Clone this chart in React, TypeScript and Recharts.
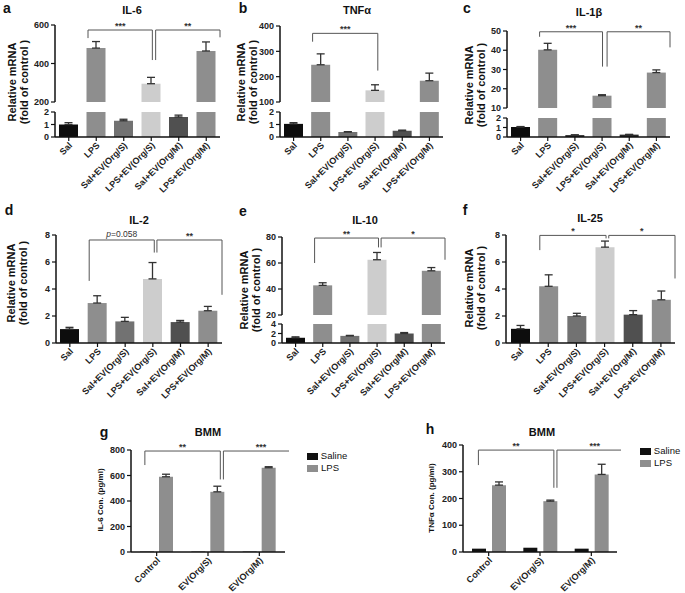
import React from 'react';
import { BarChart, Bar, XAxis, YAxis, Cell, ErrorBar, ReferenceLine } from 'recharts';

const FONT = '"Liberation Sans", Arial, Helvetica, sans-serif';

// ---------------- data ----------------
const groups = ['Sal', 'LPS', 'Sal+EV(Org/S)', 'LPS+EV(Org/S)', 'Sal+EV(Org/M)', 'LPS+EV(Org/M)'];

const il6Mean = [1.0, 480, 1.3, 295, 1.6, 465];
const il6Sem = [0.15, 34, 0.12, 33, 0.15, 47];
const tnfMean = [1.05, 247, 0.4, 146, 0.5, 184];
const tnfSem = [0.1, 43, 0.03, 22, 0.05, 30];
const il1bMean = [1.05, 40.2, 0.2, 16.4, 0.25, 28.4];
const il1bSem = [0.05, 3.4, 0.03, 0.5, 0.03, 1.4];
const il2Mean = [1.03, 2.96, 1.6, 4.75, 1.55, 2.39];
const il2Sem = [0.13, 0.54, 0.3, 1.21, 0.12, 0.32];
const il10Mean = [1.1, 42.8, 1.5, 62.5, 2.0, 54];
const il10Sem = [0.2, 2.0, 0.1, 5.6, 0.2, 2.5];
const il25Mean = [1.05, 4.2, 2.0, 7.1, 2.1, 3.2];
const il25Sem = [0.25, 0.85, 0.2, 0.45, 0.3, 0.65];

const bmmGroups = ['Control', 'EV(Org/S)', 'EV(Org/M)'];
const bmmIl6Saline = [3, 3, 3];
const bmmIl6Lps = [590, 472, 661];
const bmmIl6LpsSem = [20, 44, 8];
const bmmTnfSaline = [12.5, 16, 12.5];
const bmmTnfLps = [250, 190, 290];
const bmmTnfLpsSem = [12, 4, 38];

// significance brackets (x in category index units, y in data units)
const il6Sig = [
  { from: 1, to: 2.95, y: 574, fromEnd: 532, toEnd: 418, text: '***' },
  { from: 3.05, to: 5, y: 574, fromEnd: 418, toEnd: 536, text: '**' },
];
const tnfSig = [{ from: 1, to: 3, y: 371, fromEnd: 338, toEnd: 224, text: '***' }];
const il1bSig = [
  { from: 1, to: 2.93, y: 49.6, fromEnd: 47, toEnd: 31.5, text: '***' },
  { from: 3.07, to: 5, y: 49.6, fromEnd: 31.5, toEnd: 41.5, text: '**' },
];
const il2Sig = [
  { from: 1, to: 2.96, y: 7.63, fromEnd: 4.6, toEnd: 6.7, text: 'p=0.058' },
  { from: 3.04, to: 5, y: 7.63, fromEnd: 6.7, toEnd: 3.57, text: '**' },
];
const il10Sig = [
  { from: 1, to: 2.96, y: 79.2, fromEnd: 60, toEnd: 72, text: '**' },
  { from: 3.04, to: 5, y: 79.2, fromEnd: 72, toEnd: 62.5, text: '*' },
];
const il25Sig = [
  { from: 1, to: 2.96, y: 7.97, fromEnd: 6.88, toEnd: 7.75, text: '*' },
  { from: 3.04, to: 5, y: 7.97, fromEnd: 7.75, toEnd: 4.78, text: '*' },
];
const bmmIl6Sig = [
  { from: 0.18, to: 1.16, y: 792, fromEnd: 682, toEnd: 569, text: '**' },
  { from: 1.2, to: 2.18, y: 792, fromEnd: 569, toEnd: 726, text: '***' },
];
const bmmTnfSig = [
  { from: 0.2, to: 1.18, y: 381, fromEnd: 325, toEnd: 240, text: '**' },
  { from: 1.22, to: 2.2, y: 381, fromEnd: 240, toEnd: 347, text: '***' },
];

// ---------------- styles ----------------
const COLORS_STD = ['#0d0d0d', '#8e8e8e', '#727272', '#cdcdcd', '#505050', '#8e8e8e'];
const COLORS_C = ['#0d0d0d', '#8e8e8e', '#2a2a2a', '#8e8e8e', '#2a2a2a', '#8e8e8e'];
const AXIS = '#111';

const buildRows = (mean: number[], sem: number[]) =>
  groups.map((name, i) => ({ name, mean: mean[i], err: [0, sem[i]] }));

const buildBmm = (sal: number[], lps: number[], lpsSem: number[]) =>
  bmmGroups.map((name, i) => ({ name, saline: sal[i], lps: lps[i], lpsErr: [0, lpsSem[i]] }));

const sigLabel = (text: string) => (props: any) => {
  const vb = props.viewBox || {};
  const cx = (vb.x || 0) + (vb.width || 0) / 2;
  const y = (vb.y || 0) - 3;
  if (text.startsWith('p=')) {
    return (
      <text x={cx} y={y} textAnchor="middle" fontSize={8.5} fill="#333333" fontFamily={FONT}>
        <tspan fontStyle="italic">p</tspan>
        {text.slice(1)}
      </text>
    );
  }
  return (
    <text x={cx} y={y + 2} textAnchor="middle" fontSize={9} fontWeight="bold" fill="#333333" fontFamily={FONT}>
      {text}
    </text>
  );
};

function renderBrackets(sig: any[], pre: string) {
  const out: any[] = [];
  sig.forEach((b, i) => {
    const common = { xAxisId: 'num', stroke: '#555', strokeWidth: 1, ifOverflow: 'visible' as const };
    out.push(
      <ReferenceLine key={`${pre}h${i}`} {...common}
        segment={[{ x: b.from, y: b.y }, { x: b.to, y: b.y }]} label={sigLabel(b.text)} />
    );
    out.push(
      <ReferenceLine key={`${pre}l${i}`} {...common}
        segment={[{ x: b.from, y: b.y }, { x: b.from, y: b.fromEnd }]} />
    );
    out.push(
      <ReferenceLine key={`${pre}r${i}`} {...common}
        segment={[{ x: b.to, y: b.y }, { x: b.to, y: b.toEnd }]} />
    );
  });
  return out;
}

const RotTick = (props: any) => {
  const { x, y, payload, fs } = props;
  return (
    <g transform={`translate(${x + 4},${y + 3})`}>
      <text x={0} y={0} textAnchor="end" transform="rotate(-45)" fontSize={fs} fontWeight="bold"
        fill="#222" fontFamily={FONT}>
        {payload.value}
      </text>
    </g>
  );
};

const yTickStyle = { fontSize: 9, fontWeight: 'bold', fill: '#222', fontFamily: FONT };

type Seg = { top: number; bottom: number; domain: [number, number]; ticks: number[] };

const YW = 34;
const XH = 72;

function SegChart(props: any) {
  const { axisX, endX, seg, first, last, data, n, sig, pre, grouped, colors, xFs, barSize, barGap } = props;
  const mt = first ? 18 : 6;
  const mb = last ? 0 : 6;
  const left = axisX - YW;
  const width = endX - left + 4;
  const height = seg.bottom - seg.top + mt + mb + (last ? XH : 0);
  return (
    <div style={{ position: 'absolute', left, top: seg.top - mt }}>
      <BarChart width={width} height={height} data={data}
        margin={{ top: mt, right: 4, bottom: mb, left: 0 }} barGap={barGap}>
        <XAxis dataKey="name" interval={0} hide={!last} height={XH} tickSize={4}
          axisLine={{ stroke: AXIS, strokeWidth: 1.5 }} tickLine={{ stroke: AXIS, strokeWidth: 1.2 }}
          tick={(p: any) => <RotTick {...p} fs={xFs} />} />
        <XAxis xAxisId="num" type="number" domain={[-0.5, n - 0.5]} allowDataOverflow hide />
        <YAxis type="number" domain={seg.domain} ticks={seg.ticks} allowDataOverflow interval={0}
          width={YW} tickSize={4} tickMargin={2}
          axisLine={{ stroke: AXIS, strokeWidth: 1.5 }} tickLine={{ stroke: AXIS, strokeWidth: 1.2 }}
          tick={yTickStyle} />
        {grouped ? (
          [
            <Bar key="s" dataKey="saline" fill="#111" barSize={barSize} isAnimationActive={false} />,
            <Bar key="l" dataKey="lps" fill="#8e8e8e" barSize={barSize} isAnimationActive={false}>
              <ErrorBar dataKey="lpsErr" width={4} stroke="#333" strokeWidth={1.3} direction="y" />
            </Bar>,
          ]
        ) : (
          <Bar dataKey="mean" barSize={barSize} isAnimationActive={false}>
            {data.map((_: any, i: number) => (
              <Cell key={i} fill={colors[i]} />
            ))}
            <ErrorBar dataKey="err" width={4} stroke="#333" strokeWidth={1.3} direction="y" />
          </Bar>
        )}
        {first && sig ? renderBrackets(sig, pre) : null}
      </BarChart>
    </div>
  );
}

const Txt = ({ x, y, size, bold = true, children, italic = false }: any) => (
  <div style={{
    position: 'absolute', left: x, top: y, transform: 'translate(-50%,-50%)', fontSize: size,
    fontWeight: bold ? 'bold' : 'normal', whiteSpace: 'nowrap', lineHeight: 1.1, color: '#111',
    fontStyle: italic ? 'italic' : 'normal',
  }}>{children}</div>
);

const YLabel = ({ x, y, size = 11, lines }: any) => (
  <div style={{
    position: 'absolute', left: x, top: y, transform: 'translate(-50%,-50%) rotate(-90deg)',
    fontSize: size, fontWeight: 'bold', whiteSpace: 'nowrap', lineHeight: `${size + 0.5}px`,
    textAlign: 'center', color: '#111',
  }}>
    {lines.map((l: string, i: number) => <div key={i}>{l}</div>)}
  </div>
);

function Panel(props: any) {
  const { letter, letterPos, title, titlePos, ylab, ylabPos, ylabSize, segs, axisX, endX, data, n, sig, pre,
    grouped, colors, xFs = 9, barSize = 19, barGap = 4 } = props;
  return (
    <>
      <Txt x={letterPos[0]} y={letterPos[1]} size={14}>{letter}</Txt>
      <Txt x={titlePos[0]} y={titlePos[1]} size={11}>{title}</Txt>
      <YLabel x={ylabPos[0]} y={ylabPos[1]} size={ylabSize} lines={ylab} />
      {segs.map((s: Seg, i: number) => (
        <SegChart key={i} axisX={axisX} endX={endX} seg={s} first={i === 0} last={i === segs.length - 1}
          data={data} n={n} sig={sig} pre={pre} grouped={grouped} colors={colors} xFs={xFs}
          barSize={barSize} barGap={barGap} />
      ))}
    </>
  );
}

const REL = ['Relative mRNA', '(fold of control )'];

const Legend = ({ x, y }: any) => (
  <>
    <div style={{ position: 'absolute', left: x, top: y - 3.5, width: 11, height: 7, background: '#111' }} />
    <Txt x={x + 27} y={y} size={9.5} bold={false}>Saline</Txt>
    <div style={{ position: 'absolute', left: x, top: y + 8.5, width: 11, height: 7, background: '#8e8e8e' }} />
    <Txt x={x + 23} y={y + 12} size={9.5} bold={false}>LPS</Txt>
  </>
);

export default function App() {
  return (
    <div style={{
      position: 'absolute', left: 0, top: 0, width: 685, height: 593, background: '#fff',
      fontFamily: FONT, overflow: 'hidden',
    }}>
      <Panel letter="a" letterPos={[7, 9]} title="IL-6" titlePos={[132, 10]} ylab={REL} ylabPos={[18, 82]}
        axisX={55} endX={220} n={6} data={buildRows(il6Mean, il6Sem)} colors={COLORS_STD} sig={il6Sig} pre="a"
        segs={[
          { top: 25, bottom: 102, domain: [200, 600], ticks: [200, 400, 600] },
          { top: 112, bottom: 137, domain: [0, 2], ticks: [0, 1, 2] },
        ]} />
      <Panel letter="b" letterPos={[243, 9]} title="TNFα" titlePos={[357, 10]} ylab={REL} ylabPos={[247, 82]}
        axisX={280} endX={443} n={6} data={buildRows(tnfMean, tnfSem)} colors={COLORS_STD} sig={tnfSig} pre="b"
        segs={[
          { top: 26, bottom: 102, domain: [100, 400], ticks: [100, 200, 300, 400] },
          { top: 112, bottom: 137, domain: [0, 2], ticks: [0, 1, 2] },
        ]} />
      <Panel letter="c" letterPos={[467, 9]} title="IL-1β" titlePos={[589, 12]} ylab={REL} ylabPos={[475, 85]}
        axisX={507} endX={670} n={6} data={buildRows(il1bMean, il1bSem)} colors={COLORS_C} sig={il1bSig} pre="c"
        segs={[
          { top: 31, bottom: 108, domain: [10, 50], ticks: [10, 20, 30, 40, 50] },
          { top: 118, bottom: 137, domain: [0, 2], ticks: [0, 1, 2] },
        ]} />
      <Panel letter="d" letterPos={[9, 211]} title="IL-2" titlePos={[139, 220]} ylab={REL} ylabPos={[17, 283]}
        axisX={56} endX={222} n={6} data={buildRows(il2Mean, il2Sem)} colors={COLORS_STD} sig={il2Sig} pre="d"
        segs={[{ top: 235, bottom: 343, domain: [0, 8], ticks: [0, 2, 4, 6, 8] }]} />
      <Panel letter="e" letterPos={[243, 212]} title="IL-10" titlePos={[365, 220]} ylab={REL} ylabPos={[250, 290]}
        axisX={282} endX={445} n={6} data={buildRows(il10Mean, il10Sem)} colors={COLORS_STD} sig={il10Sig} pre="e"
        segs={[
          { top: 237, bottom: 315, domain: [20, 80], ticks: [20, 40, 60, 80] },
          { top: 324, bottom: 343, domain: [0, 4], ticks: [0, 2, 4] },
        ]} />
      <Panel letter="f" letterPos={[465, 211]} title="IL-25" titlePos={[590, 218]} ylab={REL} ylabPos={[475, 288]}
        axisX={506} endX={675} n={6} data={buildRows(il25Mean, il25Sem)} colors={COLORS_STD} sig={il25Sig} pre="f"
        segs={[{ top: 235, bottom: 343, domain: [0, 8], ticks: [0, 2, 4, 6, 8] }]} />
      <Panel letter="g" letterPos={[104, 433]} title="BMM" titlePos={[208, 432]} ylab={['IL-6 Con. (pg/ml)']}
        ylabSize={8} ylabPos={[101, 500]} axisX={131} endX={285} n={3}
        data={buildBmm(bmmIl6Saline, bmmIl6Lps, bmmIl6LpsSem)} grouped sig={bmmIl6Sig} pre="g"
        barSize={14} barGap={5} xFs={9}
        segs={[{ top: 450, bottom: 552, domain: [0, 800], ticks: [0, 200, 400, 600, 800] }]} />
      <Legend x={307} y={456} />
      <Panel letter="h" letterPos={[430, 430]} title="BMM" titlePos={[542, 432]} ylab={['TNFα Con. (pg/ml)']}
        ylabSize={8} ylabPos={[432, 498]} axisX={463} endX={617} n={3}
        data={buildBmm(bmmTnfSaline, bmmTnfLps, bmmTnfLpsSem)} grouped sig={bmmTnfSig} pre="h"
        barSize={14} barGap={6} xFs={9}
        segs={[{ top: 445, bottom: 552, domain: [0, 400], ticks: [0, 100, 200, 300, 400] }]} />
      <Legend x={640} y={451} />
    </div>
  );
}
